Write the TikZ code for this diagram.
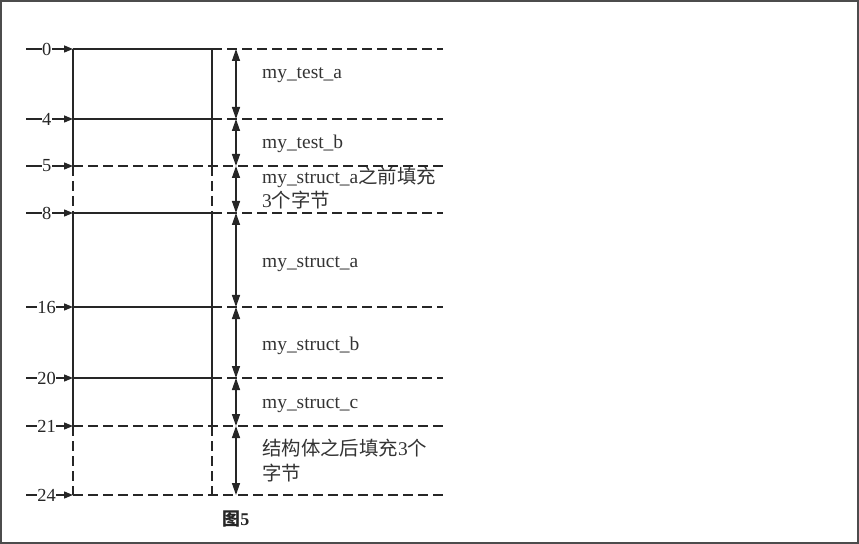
\documentclass[tikz,border=0pt]{standalone}
\usepackage{fontspec}
\setmainfont{Liberation Serif}
\newfontfamily\cjk{Noto Sans CJK SC}
\usetikzlibrary{arrows.meta}
\tikzset{
  ink/.style={draw=black!85, line width=1.4bp},
  solidln/.style={ink},
  dashln/.style={ink, dash pattern=on 10bp off 5bp},
  tickln/.style={ink, -{Triangle[length=9bp,width=7bp]}},
  ticklabel/.style={fill=white, inner sep=0.5bp, text=black!85, font=\fontsize{18.5}{18.5}\selectfont},
  dimln/.style={ink, {Triangle[length=12bp,width=8bp]}-{Triangle[length=12bp,width=8bp]}},
  lab/.style={anchor=base west, inner sep=0pt, text=black!80, font=\fontsize{19.5}{24}\selectfont},
}
\begin{document}
\begin{tikzpicture}[x=1bp,y=-1bp]
\useasboundingbox (0,0) rectangle (859,544);
\draw[draw=black!70, line width=1.8bp] (1,1) rectangle (858,543);
\foreach \n/\y in {0/49,4/119,5/166,8/213,16/307,20/378,21/426,24/495}{
  \coordinate (t\n) at (26,\y);
  \coordinate (l\n) at (73,\y);
  \coordinate (r\n) at (212,\y);
  \coordinate (a\n) at (236,\y);
  \coordinate (e\n) at (443,\y);
  \draw[tickln] (t\n) -- node[ticklabel, pos=0.44] (k\n) {\n} (l\n);
}
% solid horizontals
\foreach \n in {0,4,8,16,20}{\draw[solidln] (l\n) -- (r\n);}
% dashed horizontals
\foreach \n in {0,4,8,16,20}{\draw[dashln] (r\n) -- (e\n);}
\foreach \n in {5,21,24}{\draw[dashln] (l\n) -- (e\n);}
% verticals
\draw[solidln] (l0) -- (l5);
\draw[solidln] (r0) -- (r5);
\draw[dashln] (l5) -- (l8);
\draw[dashln] (r5) -- (r8);
\draw[solidln] (l8) -- (l21);
\draw[solidln] (r8) -- (r21);
\draw[dashln] (l21) -- (l24);
\draw[dashln] (r21) -- (r24);
% dimension arrows
\draw[dimln] (a0) -- (a4);
\draw[dimln] (a4) -- (a5);
\draw[dimln] (a5) -- (a8);
\draw[dimln] (a8) -- (a16);
\draw[dimln] (a16) -- (a20);
\draw[dimln] (a20) -- (a21);
\draw[dimln] (a21) -- (a24);
% labels
\node[lab] (n1) at (262,79) {my\_test\_a};
\node[lab] (n2) at (262,149) {my\_test\_b};
\node[lab] (n3a) at (262,184) {my\_struct\_a{\cjk 之前填充}};
\node[lab] (n3b) at (262,208) {3{\cjk 个字节}};
\node[lab] (n4) at (262,268) {my\_struct\_a};
\node[lab] (n5) at (262,350) {my\_struct\_b};
\node[lab] (n6) at (262,408) {my\_struct\_c};
\node[lab] (n7a) at (262,455) {{\cjk 结构体之后填充}3{\cjk 个}};
\node[lab] (n7b) at (262,480) {{\cjk 字节}};
\node[anchor=base, inner sep=0pt, text=black!85, font=\fontsize{18}{18}\selectfont\bfseries] (cap) at (236,525) {{\cjk 图}5};
\end{tikzpicture}
\end{document}
